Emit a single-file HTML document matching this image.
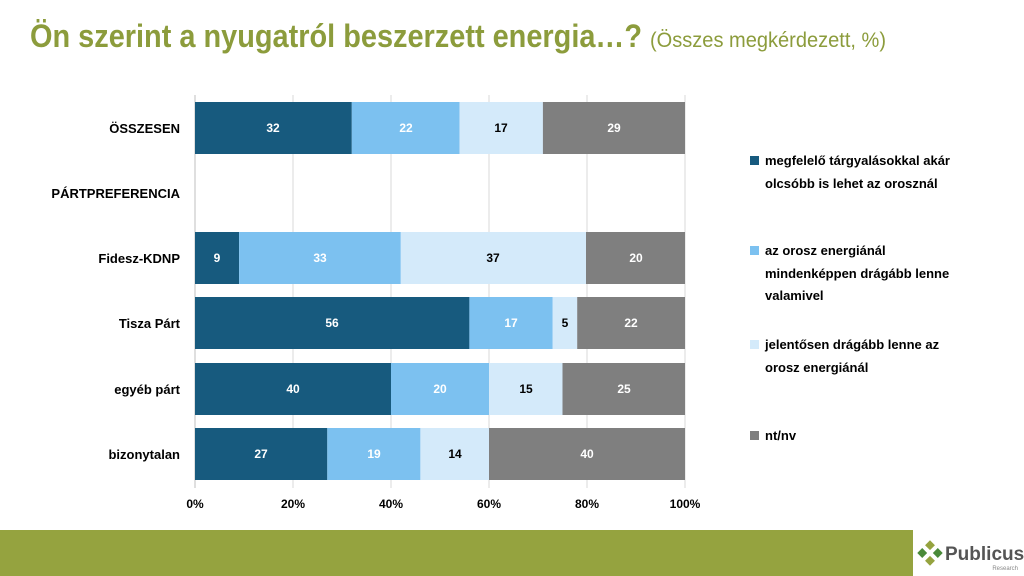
<!DOCTYPE html>
<html><head><meta charset="utf-8"><style>body{margin:0;background:#fff}svg{display:block}</style></head><body>
<svg width="1024" height="576" xmlns="http://www.w3.org/2000/svg" font-family="Liberation Sans, sans-serif">
<text x="30" y="47" font-size="32" font-weight="bold" fill="#8c9c3c" textLength="612" lengthAdjust="spacingAndGlyphs">Ön szerint a nyugatról beszerzett energia…?</text>
<text x="650" y="47" font-size="21" fill="#8c9c3c" textLength="236" lengthAdjust="spacingAndGlyphs">(Összes megkérdezett, %)</text>
<g stroke="#d9d9d9" stroke-width="1">
<line x1="293" y1="95" x2="293" y2="488"/><line x1="391" y1="95" x2="391" y2="488"/><line x1="489" y1="95" x2="489" y2="488"/><line x1="587" y1="95" x2="587" y2="488"/><line x1="685" y1="95" x2="685" y2="488"/>
</g>
<line x1="195" y1="95" x2="195" y2="488" stroke="#bfbfbf"/>
<g font-size="12" font-weight="bold" fill="#000" text-anchor="middle">
<text x="195" y="508">0%</text><text x="293" y="508">20%</text><text x="391" y="508">40%</text><text x="489" y="508">60%</text><text x="587" y="508">80%</text><text x="685" y="508">100%</text>
</g>
<g font-size="13" font-weight="bold" fill="#000" text-anchor="end">
<text x="180" y="133">ÖSSZESEN</text><text x="180" y="198">PÁRTPREFERENCIA</text><text x="180" y="263">Fidesz-KDNP</text><text x="180" y="328">Tisza Párt</text><text x="180" y="394">egyéb párt</text><text x="180" y="459">bizonytalan</text>
</g>
<g>
<rect x="195" y="102" width="156.8" height="52" fill="#175a7e"/><rect x="351.8" y="102" width="107.8" height="52" fill="#7cc1f0"/><rect x="459.6" y="102" width="83.3" height="52" fill="#d4eafa"/><rect x="542.9" y="102" width="142.1" height="52" fill="#7f7f7f"/>
<rect x="195" y="232" width="44.1" height="52" fill="#175a7e"/><rect x="239.1" y="232" width="161.7" height="52" fill="#7cc1f0"/><rect x="400.8" y="232" width="185.2" height="52" fill="#d4eafa"/><rect x="586" y="232" width="99" height="52" fill="#7f7f7f"/>
<rect x="195" y="297" width="274.4" height="52" fill="#175a7e"/><rect x="469.4" y="297" width="83.3" height="52" fill="#7cc1f0"/><rect x="552.7" y="297" width="24.5" height="52" fill="#d4eafa"/><rect x="577.2" y="297" width="107.8" height="52" fill="#7f7f7f"/>
<rect x="195" y="363" width="196" height="52" fill="#175a7e"/><rect x="391" y="363" width="98" height="52" fill="#7cc1f0"/><rect x="489" y="363" width="73.5" height="52" fill="#d4eafa"/><rect x="562.5" y="363" width="122.5" height="52" fill="#7f7f7f"/>
<rect x="195" y="428" width="132.3" height="52" fill="#175a7e"/><rect x="327.3" y="428" width="93.1" height="52" fill="#7cc1f0"/><rect x="420.4" y="428" width="68.6" height="52" fill="#d4eafa"/><rect x="489" y="428" width="196" height="52" fill="#7f7f7f"/>
</g>
<g font-size="12" font-weight="bold" text-anchor="middle">
<g fill="#fff"><text x="273" y="132">32</text><text x="614" y="132">29</text>
<text x="217" y="262">9</text><text x="636" y="262">20</text>
<text x="332" y="327">56</text><text x="631" y="327">22</text>
<text x="293" y="393">40</text><text x="440" y="393">20</text><text x="624" y="393">25</text>
<text x="261" y="458">27</text><text x="374" y="458">19</text><text x="587" y="458">40</text>
<text x="406" y="132">22</text><text x="320" y="262">33</text><text x="511" y="327">17</text></g>
<g fill="#000"><text x="501" y="132">17</text><text x="493" y="262">37</text><text x="565" y="327">5</text><text x="526" y="393">15</text><text x="455" y="458">14</text></g>
</g>
<g font-size="13" font-weight="bold" fill="#000">
<rect x="750" y="156" width="9" height="9" fill="#175a7e"/><text x="765" y="165">megfelelő tárgyalásokkal akár</text><text x="765" y="188">olcsóbb is lehet az orosznál</text>
<rect x="750" y="246" width="9" height="9" fill="#7cc1f0"/><text x="765" y="255">az orosz energiánál</text><text x="765" y="278">mindenképpen drágább lenne</text><text x="765" y="300">valamivel</text>
<rect x="750" y="340" width="9" height="9" fill="#d4eafa"/><text x="765" y="349">jelentősen drágább lenne az</text><text x="765" y="372">orosz energiánál</text>
<rect x="750" y="431" width="9" height="9" fill="#7f7f7f"/><text x="765" y="440">nt/nv</text>
</g>
<rect x="0" y="530" width="913" height="46" fill="#95a33f"/>
<g transform="translate(930,553) rotate(45)">
<rect x="-9" y="-9" width="7" height="7" fill="#95a33f"/><rect x="2" y="-9" width="7" height="7" fill="#4a8a3a"/><rect x="-9" y="2" width="7" height="7" fill="#4a8a3a"/><rect x="2" y="2" width="7" height="7" fill="#95a33f"/>
</g>
<text x="945" y="560" font-size="19" font-weight="bold" fill="#555">Publicus</text>
<text x="1018" y="570" font-size="6" fill="#888" text-anchor="end">Research</text>
</svg>
</body></html>
